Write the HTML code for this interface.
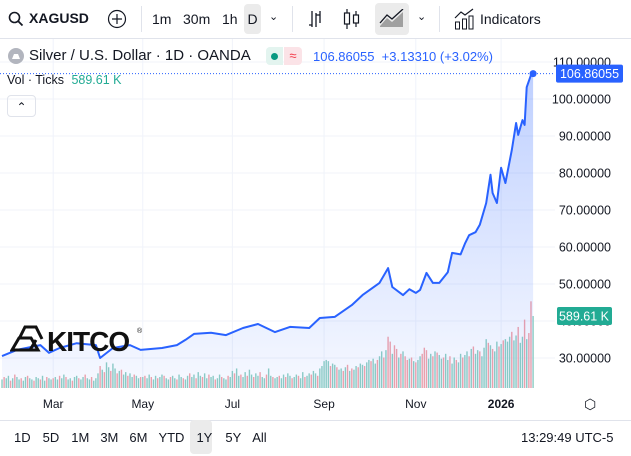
<!DOCTYPE html>
<html><head><meta charset="utf-8">
<style>
body{margin:0;width:631px;height:456px;overflow:hidden;background:#fff;font-family:"Liberation Sans",sans-serif;color:#131722;position:relative}
.t{position:absolute;white-space:nowrap}
.tb{font-size:14px}
</style></head><body>
<div style="position:absolute;left:0;top:0;width:631px;height:38px;border-bottom:1px solid #e0e3eb"></div>
<svg class="t" style="left:8px;top:11px" width="16" height="16"><circle cx="6.5" cy="6.5" r="5" fill="none" stroke="#131722" stroke-width="1.6"/><line x1="10" y1="10" x2="14.5" y2="14.5" stroke="#131722" stroke-width="1.8"/></svg>
<div class="t tb" style="left:29px;top:10px;font-weight:bold">XAGUSD</div>
<svg class="t" style="left:107px;top:9px" width="20" height="20"><circle cx="10" cy="10" r="8.5" fill="none" stroke="#131722" stroke-width="1.2"/><path d="M10 5v10M5 10h10" stroke="#131722" stroke-width="1.2"/></svg>
<div class="t" style="left:141px;top:6px;width:1px;height:26px;background:#e0e3eb"></div>
<div class="t tb" style="left:152px;top:11px">1m</div>
<div class="t tb" style="left:183px;top:11px">30m</div>
<div class="t tb" style="left:222px;top:11px">1h</div>
<div class="t tb" style="left:244px;top:4px;width:17px;height:30px;background:#ebebeb;border-radius:4px;text-align:center;line-height:30px">D</div>
<div class="t" style="left:269px;top:10px;font-size:11px">&#8964;</div>
<div class="t" style="left:292px;top:6px;width:1px;height:26px;background:#e0e3eb"></div>
<svg class="t" style="left:307px;top:9px" width="18" height="20"><path d="M5 2v16M2 16h3M9 4v14M9 6h4M13 2v12" stroke="#131722" stroke-width="1.3" fill="none"/></svg>
<svg class="t" style="left:343px;top:8px" width="18" height="22"><path d="M4 1v20M13 3v16" stroke="#131722" stroke-width="1.2"/><rect x="1.5" y="5" width="5" height="11" fill="#fff" stroke="#131722" stroke-width="1.2"/><rect x="10.5" y="7" width="5" height="8" fill="#fff" stroke="#131722" stroke-width="1.2"/></svg>
<div class="t" style="left:375px;top:3px;width:34px;height:32px;background:#ebebeb;border-radius:4px"></div>
<svg class="t" style="left:379px;top:9px" width="26" height="20"><path d="M1 17l7-8 5 4 11-10v15H1z" fill="#555" opacity=".5"/><path d="M1 14l7-8 5 4 11-10" stroke="#131722" stroke-width="1.3" fill="none"/></svg>
<div class="t" style="left:417px;top:10px;font-size:11px">&#8964;</div>
<div class="t" style="left:439px;top:6px;width:1px;height:26px;background:#e0e3eb"></div>
<svg class="t" style="left:454px;top:8px" width="20" height="22"><path d="M1 10l6-6 4 3 8-6" stroke="#131722" stroke-width="1.2" fill="none"/><rect x="1.5" y="14" width="4" height="7" fill="none" stroke="#131722"/><rect x="8.5" y="11" width="4" height="10" fill="none" stroke="#131722"/><rect x="15" y="8" width="4" height="13" fill="none" stroke="#131722"/></svg>
<div class="t tb" style="left:480px;top:11px">Indicators</div>

<svg id="chart" class="t" style="left:0;top:39px" width="631" height="381" viewBox="0 39 631 381"></svg>

<svg class="t" style="left:8px;top:48px" width="16" height="16"><circle cx="8" cy="8" r="8" fill="#b2b5be"/><path d="M4 11l2-5h4l2 5z" fill="#fff"/></svg>
<div class="t" style="left:29px;top:47px;font-size:15px">Silver / U.S. Dollar · 1D · OANDA</div>
<div class="t" style="left:266px;top:47px;width:17px;height:18px;background:#e3f4ef;border-radius:4px 0 0 4px"><div style="margin:6px 0 0 5px;width:7px;height:7px;border-radius:50%;background:#089981"></div></div>
<div class="t" style="left:284px;top:47px;width:18px;height:18px;background:#fbe3e7;border-radius:0 4px 4px 0;color:#f23645;font-size:13px;text-align:center;line-height:18px">≈</div>
<div class="t" style="left:313px;top:49px;font-size:13px;color:#2962ff">106.86055&nbsp; +3.13310 (+3.02%)</div>
<div class="t" style="left:7px;top:73px;font-size:12.5px">Vol · Ticks <span style="color:#22ab94;margin-left:4px">589.61 K</span></div>
<div class="t" style="left:7px;top:95px;width:27px;height:20px;border:1px solid #e0e3eb;border-radius:4px;text-align:center;font-size:12px;line-height:22px">&#8963;</div>

<svg class="t" style="left:10px;top:324px" width="135" height="30"><g fill="none" stroke="#111" stroke-width="3"><path d="M2 26l7-12h12l7 12z"/><path d="M20 26l6-10"/><path d="M10 13l5-10h11l6 12"/></g><text x="37" y="27" font-family="Liberation Sans" font-weight="bold" font-size="28" fill="#111" letter-spacing="-1">KITCO</text><text x="127" y="9" font-size="7" fill="#111">®</text></svg>

<div class="t" style="left:584px;top:396px;font-size:14px">⬡</div>
<div style="position:absolute;left:0;top:420px;width:631px;height:1px;background:#e0e3eb"></div>
<div class="t" style="left:190px;top:420px;width:22px;height:34px;background:#ebebeb;border-radius:4px"></div>
<div class="t" style="left:14px;top:430px;font-size:13px;word-spacing:0">
<span>1D</span><span style="margin-left:12px">5D</span><span style="margin-left:12px">1M</span><span style="margin-left:11px">3M</span><span style="margin-left:11px">6M</span><span style="margin-left:11px">YTD</span><span style="margin-left:12px">1Y</span><span style="margin-left:13px">5Y</span><span style="margin-left:11px">All</span></div>
<div class="t" style="left:521px;top:430px;font-size:13px">13:29:49 UTC-5</div>

<script>
const priceIdx=[0,7,18,22,27,35,44,46,52,60,65,75,82,86,90,98,105,113,120,128,135,144,149,156,164,169,177,181,183,188,191,194,196,199,202,205,209,211,215,217,219,222,224,227,229,230,232,234,236,239,241,242,244,245,246,248,249];
const prices=[30.5,32.2,33.5,31.4,32.7,34,33.5,30,32.7,33.5,32.2,32.7,33.5,34.9,36.5,36.8,36.2,38.1,39.2,37,38.4,38.1,40.8,41.1,44.3,47,50.3,54.3,49.2,47,48.6,47.6,48.4,53,50.3,50.3,53.2,58.4,58,60.9,63.2,64,66,71.9,79.5,74.6,71.9,81.4,77.3,86.2,93.5,90.3,94.3,93,103.2,106.5,106.86];
const volumes=[70,-90,80,100,-60,80,-110,90,70,-80,60,90,-100,80,70,-60,90,80,-70,100,60,-90,80,70,
-80,90,70,-100,80,110,-90,70,80,-60,90,100,-80,70,90,-110,80,70,-90,60,80,
120,-180,150,-130,210,170,-140,200,160,-120,140,-150,110,130,-100,120,90,-110,100,80,-90,
90,-100,80,110,-90,70,100,-80,90,110,-100,80,70,-90,100,80,-70,110,90,-80,70,
100,-120,90,110,-80,130,100,-90,120,80,-110,90,100,-70,80,110,-90,80,70,-100,90,
140,-120,160,100,-110,90,130,-100,150,110,-90,120,100,-130,90,80,-110,160,100,-90,80,
90,-100,80,110,-90,120,100,-80,90,110,-100,80,130,-90,100,120,-110,140,120,-100,160,180,
220,230,220,-180,200,190,-170,150,160,-140,170,-190,140,-160,150,180,-170,200,190,-180,210,
230,-220,240,200,-230,260,300,-250,310,-420,-380,280,-350,-320,250,-280,300,-260,-230,240,-250,220,
-210,230,260,-280,-330,-310,240,280,-260,300,-290,270,240,-250,280,230,-260,200,250,-230,210,
280,-250,270,300,-260,320,-340,280,310,-300,260,330,400,-370,350,-320,300,380,-340,360,-390,400,
380,420,-460,390,430,-500,370,420,-560,400,-450,-710,589.61];
const priceTicks=[30,40,50,60,70,80,90,100,110];
const monthLabels=["Mar","May","Jul","Sep","Nov","2026"];
const monthIdx=[24,66,108,151,194,234];
const lastPrice=106.86055, lastVolK=589.61;

const NS="http://www.w3.org/2000/svg";
const svg=document.getElementById('chart');
const X=i=>2+i*2.133;
const Y=p=>358-(p-30)*3.7;
const VB=388, VY=v=>VB-Math.abs(v)*0.1221;
function mk(t,a){const e=document.createElementNS(NS,t);for(const k in a)e.setAttribute(k,a[k]);svg.appendChild(e);return e;}

priceTicks.forEach(p=>{const l=mk('line',{x1:0,x2:555,y1:Y(p),y2:Y(p),stroke:'#f0f3fa'});

});
monthIdx.forEach(i=>{const l=mk('line',{x1:X(i),x2:X(i),y1:39,y2:388,stroke:'#f0f3fa'});

});

const defs=mk('defs',{});
defs.innerHTML='<linearGradient id="g" x1="0" y1="0" x2="0" y2="1"><stop offset="0" stop-color="#2962ff" stop-opacity="0.3"/><stop offset="1" stop-color="#2962ff" stop-opacity="0.04"/></linearGradient>';

volumes.forEach((v,i)=>{const r=mk('rect',{x:X(i)-0.7,y:VY(v),width:1.4,height:VB-VY(v),fill:v>=0?'#8fcfc3':'#f4a3a8'});

});

let d='';priceIdx.forEach((i,k)=>{d+=(k?'L':'M')+X(i).toFixed(1)+' '+Y(prices[k]).toFixed(1);});
const area=mk('path',{d:d+`L${X(priceIdx[priceIdx.length-1])} ${VB}L${X(0)} ${VB}Z`,fill:'url(#g)'});


const line=mk('path',{d:d,fill:'none',stroke:'#2962ff','stroke-width':2,'stroke-linejoin':'round'});



const ly=Y(lastPrice);
const dl=mk('line',{x1:0,x2:555,y1:ly,y2:ly,stroke:'#2962ff','stroke-dasharray':'1 2'});


const dot=mk('circle',{cx:X(priceIdx[priceIdx.length-1]),cy:ly,r:3.5,fill:'#2962ff'});



priceTicks.forEach(p=>{const t=mk('text',{x:611,y:Y(p)+4.5,'text-anchor':'end','font-size':12.5,fill:'#131722','font-family':'Liberation Sans'});t.textContent=p.toFixed(5);

});
const bg=mk('rect',{x:556,y:ly-9,width:67,height:18,fill:'#2962ff',rx:2});


const tl=mk('text',{x:589.5,y:ly+4.5,'text-anchor':'middle','font-size':12.5,fill:'#fff','font-family':'Liberation Sans'});tl.textContent=lastPrice.toFixed(5);
const vy=VY(lastVolK);
const vb=mk('rect',{x:557,y:vy-9,width:55,height:18,fill:'#22ab94',rx:2});


const vt=mk('text',{x:584,y:vy+4.5,'text-anchor':'middle','font-size':12.5,fill:'#fff','font-family':'Liberation Sans'});vt.textContent=lastVolK.toFixed(2)+' K';
monthLabels.forEach((m,k)=>{const t=mk('text',{x:X(monthIdx[k]),y:408,'text-anchor':'middle','font-size':12,fill:'#131722','font-family':'Liberation Sans','font-weight':m==='2026'?'bold':'normal'});t.textContent=m;

});
</script>
</body></html>
